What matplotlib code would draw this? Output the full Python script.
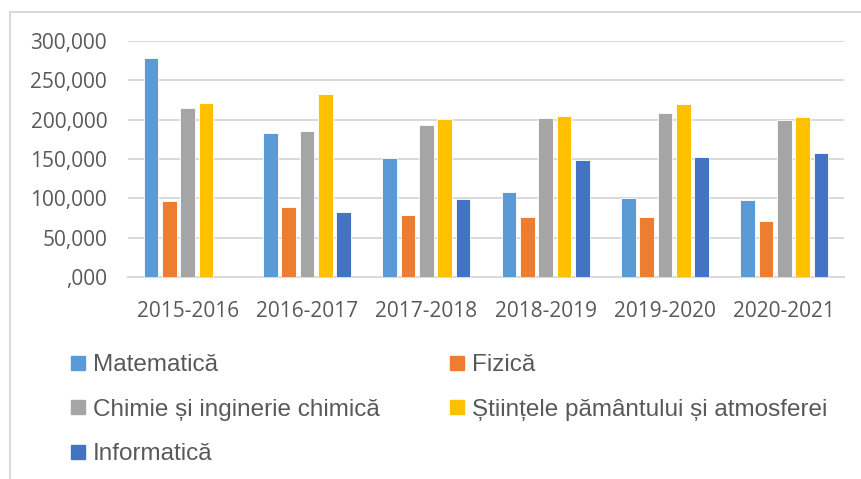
import numpy as np
import matplotlib
matplotlib.use("Agg")
import matplotlib.pyplot as plt
from matplotlib.lines import Line2D

categories = ["2015-2016", "2016-2017", "2017-2018", "2018-2019", "2019-2020", "2020-2021"]
series_names = ["Matematică", "Fizică", "Chimie și inginerie chimică",
                "Științele pământului și atmosferei", "Informatică"]
matematica = [279000, 183000, 151000, 108000, 100000, 98000]
fizica = [96000, 89000, 79000, 76000, 76000, 71000]
chimie = [215000, 186000, 193000, 202000, 208000, 199000]
stiinte = [221000, 233000, 201000, 205000, 220000, 204000]
informatica = [np.nan, 82500, 99500, 149000, 153000, 157000]
yticks = [0, 50000, 100000, 150000, 200000, 250000, 300000]
ytick_labels = [",000", "50,000", "100,000", "150,000", "200,000", "250,000", "300,000"]

colors = ["#5B9BD5", "#ED7D31", "#A5A5A5", "#FFC000", "#4472C4"]
text_color = "#595959"
grid_color = "#D9D9D9"

W, H = 861, 479
fig = plt.figure(figsize=(W / 100, H / 100), dpi=100)
ax = fig.add_axes([128 / W, 1 - 277 / H, (844 - 128) / W, (277 - 41) / H])

x = np.arange(len(categories))
step = 0.1535
width = 0.1215
all_series = [matematica, fizica, chimie, stiinte, informatica]
for i, (vals, c) in enumerate(zip(all_series, colors)):
    ax.bar(x + (i - 2) * step, vals, width=width, color=c, edgecolor="white",
           linewidth=0.6, zorder=3)

ax.set_xlim(-0.5, len(categories) - 0.5)
ax.set_ylim(0, 300000)
ax.set_yticks(yticks)
ax.set_yticklabels(ytick_labels)
ax.set_xticks(x)
ax.set_xticklabels(categories)
ax.grid(axis="y", color=grid_color, linewidth=1.4, zorder=0)
ax.set_axisbelow(True)
for s in ["top", "right", "left"]:
    ax.spines[s].set_visible(False)
ax.spines["bottom"].set_color(grid_color)
ax.spines["bottom"].set_linewidth(1.4)
ax.tick_params(axis="both", length=0, colors=text_color, labelsize=15)
ax.tick_params(axis="y", pad=15)
ax.tick_params(axis="x", pad=17)
for lab in ax.get_xticklabels() + ax.get_yticklabels():
    lab.set_fontfamily("Open Sans")

# chart border (top and left visible)
fig.add_artist(Line2D([10 / W, 10 / W], [0, 1 - 12 / H], transform=fig.transFigure,
                      color=grid_color, linewidth=1.5))
fig.add_artist(Line2D([10 / W, 1], [1 - 12 / H, 1 - 12 / H], transform=fig.transFigure,
                      color=grid_color, linewidth=1.5))

def handle(c):
    return Line2D([], [], marker="s", linestyle="none", markersize=10,
                  markerfacecolor=c, markeredgecolor=c)

leg_font = {"family": ["Liberation Sans"], "size": 17.5}
col1 = [0, 2, 4]
col2 = [1, 3]
for idx, xpos in [(col1, 71), (col2, 450)]:
    lg = fig.legend([handle(colors[i]) for i in idx], [series_names[i] for i in idx],
                    loc="upper left", bbox_to_anchor=(xpos / W, 1 - 354 / H),
                    frameon=False, prop=leg_font, labelcolor=text_color,
                    handlelength=0.6, handletextpad=0.3, labelspacing=0.93,
                    borderaxespad=0, borderpad=0)

fig.savefig("out.png", dpi=100)
